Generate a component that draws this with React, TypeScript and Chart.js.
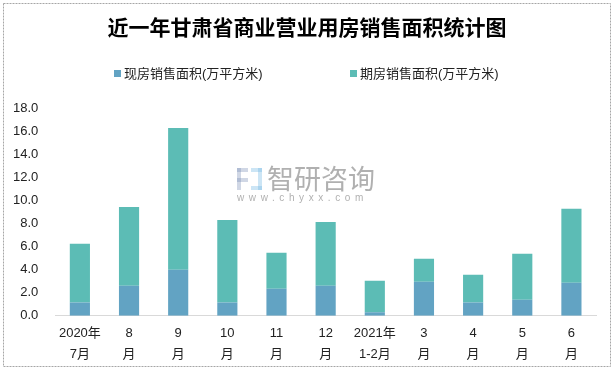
import React, { useEffect, useRef } from "react";
import { Chart, registerables } from "chart.js";

Chart.register(...registerables);

const titleText = "近一年甘肃省商业营业用房销售面积统计图";
const categories: string[][] = [
  ["2020年", "7月"], ["8", "月"], ["9", "月"], ["10", "月"], ["11", "月"], ["12", "月"],
  ["2021年", "1-2月"], ["3", "月"], ["4", "月"], ["5", "月"], ["6", "月"],
];
const existingLabel = "现房销售面积(万平方米)";
const existingValues = [1.15, 2.6, 3.98, 1.15, 2.34, 2.6, 0.29, 2.94, 1.15, 1.38, 2.86];
const futuresLabel = "期房销售面积(万平方米)";
const futuresValues = [5.08, 6.83, 12.28, 7.15, 3.11, 5.53, 2.74, 1.99, 2.4, 3.98, 6.4];
const yMax = 18;
const yStep = 2;

const BLUE = "#62A3C3";
const TEAL = "#5CBCB5";
const FONT = "'Liberation Sans', 'Noto Sans CJK SC', sans-serif";

const decorPlugin = {
  id: "decor",
  beforeDraw(chart: any) {
    const ctx = chart.ctx;
    ctx.save();
    ctx.fillStyle = "#ffffff";
    ctx.fillRect(0, 0, chart.width, chart.height);
    ctx.restore();
  },
  afterDraw(chart: any) {
    const ctx = chart.ctx;
    ctx.save();
    // border
    ctx.strokeStyle = "#a6a6a6";
    ctx.lineWidth = 1;
    ctx.setLineDash([2, 1]);
    ctx.strokeRect(3.5, 3.5, chart.width - 7, chart.height - 7);
    ctx.setLineDash([]);
    // title
    ctx.fillStyle = "#000";
    ctx.font = "bold 21px 'Noto Sans CJK SC', serif";
    ctx.textAlign = "center";
    ctx.textBaseline = "middle";
    ctx.fillText(titleText, chart.width / 2, 27);
    // legend
    const items = [
      { label: chart.data.datasets[0].label, color: chart.data.datasets[0].backgroundColor, x: 114 },
      { label: chart.data.datasets[1].label, color: chart.data.datasets[1].backgroundColor, x: 350 },
    ];
    ctx.font = "13px " + FONT;
    ctx.textAlign = "left";
    items.forEach((it) => {
      ctx.fillStyle = it.color;
      ctx.fillRect(it.x, 70, 7, 7);
      ctx.fillStyle = "#222";
      ctx.fillText(it.label, it.x + 10, 74);
    });
    // watermark
    ctx.fillStyle = "rgba(120,140,180,0.35)";
    ctx.fillRect(237, 168, 11, 4);
    ctx.fillRect(237, 168, 4, 22);
    ctx.fillRect(237, 178, 11, 4);
    ctx.fillStyle = "rgba(110,180,225,0.35)";
    ctx.fillRect(251, 168, 11, 4);
    ctx.fillRect(258, 168, 4, 22);
    ctx.fillRect(251, 186, 11, 4);
    ctx.fillStyle = "rgba(150,150,150,0.75)";
    ctx.font = "27px 'Noto Sans CJK SC', sans-serif";
    ctx.fillText("智研咨询", 267, 179);
    ctx.font = "10px " + FONT;
    (ctx as any).letterSpacing = "4.6px";
    ctx.fillText("www.chyxx.com", 237, 198);
    ctx.restore();
  },
};

export default function App() {
  const ref = useRef<HTMLCanvasElement | null>(null);
  useEffect(() => {
    document.body.style.margin = "0";
    const chart = new Chart(ref.current as HTMLCanvasElement, {
      type: "bar",
      data: {
        labels: categories,
        datasets: [
          { label: existingLabel, data: existingValues, backgroundColor: BLUE, barPercentage: 0.41, categoryPercentage: 1 },
          { label: futuresLabel, data: futuresValues, backgroundColor: TEAL, barPercentage: 0.41, categoryPercentage: 1 },
        ],
      },
      options: {
        animation: false,
        responsive: false,
        maintainAspectRatio: false,
        layout: { padding: { top: 108, left: -4, right: 18, bottom: -2 } },
        plugins: {
          legend: { display: false },
          title: { display: false },
          tooltip: { enabled: false },
        },
        scales: {
          x: {
            stacked: true,
            grid: { display: false, drawTicks: false },
            border: { display: true, color: "#d9d9d9", width: 1 },
            ticks: { color: "#222", font: { size: 13, family: FONT, lineHeight: 1.55 }, maxRotation: 0, autoSkip: false, padding: 8 },
          },
          y: {
            stacked: true,
            min: 0,
            max: yMax,
            grid: { display: false, drawTicks: false },
            border: { display: false },
            ticks: {
              stepSize: yStep,
              color: "#222",
              font: { size: 13, family: FONT },
              padding: 17,
              callback: (v: any) => Number(v).toFixed(1),
            },
          },
        },
      },
      plugins: [decorPlugin],
    });
    return () => chart.destroy();
  }, []);
  return <canvas ref={ref} width={614} height={370} style={{ display: "block", width: 614, height: 370 }} />;
}
